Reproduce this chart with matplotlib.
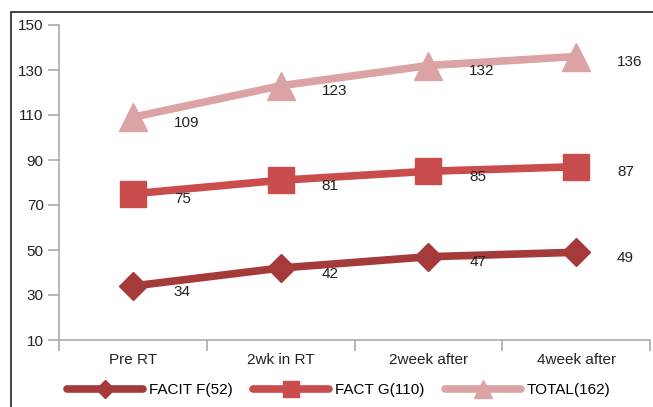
import numpy as np
import matplotlib.pyplot as plt
from matplotlib.patches import Rectangle

plt.rcParams['font.family'] = ['Liberation Sans', 'DejaVu Sans']

categories = ['Pre RT', '2wk in RT', '2week after', '4week after']
facit_f = [34, 42, 47, 49]
fact_g = [75, 81, 85, 87]
total = [109, 123, 132, 136]
series_names = ['FACIT F(52)', 'FACT G(110)', 'TOTAL(162)']

colors = ['#A53A3B', '#C94D4C', '#DBA3A3']
markers = ['D', 's', '^']
msizes = [14, 18.5, 19.5]

fig = plt.figure(figsize=(6.53, 4.07), dpi=100)
ax = fig.add_axes([59 / 653, 1 - 340 / 407, 1 - 59 / 653 - 3 / 653, (340 - 25) / 407])

# outer frame
fig.patches.append(Rectangle((11 / 653, -0.1), 1.2, 1 - 12 / 407 + 0.1,
                             transform=fig.transFigure, fill=False,
                             edgecolor='#222222', linewidth=1.2))

x = np.arange(len(categories))
for vals, c, m, ms, name in zip([facit_f, fact_g, total], colors, markers, msizes, series_names):
    ax.plot(x, vals, color=c, linewidth=5.5, marker=m, markersize=ms,
            solid_capstyle='round', label=name, zorder=3)
    for i, v in enumerate(vals):
        ax.annotate(str(v), (x[i], v), xytext=(29.5, -4), textcoords='offset points',
                    ha='left', va='center', fontsize=11, color='#222222')

ax.set_xlim(-0.5, 3.5)
ax.set_ylim(10, 150)
ax.set_yticks(range(10, 151, 20))
ax.set_xticks(x)
ax.set_xticklabels(categories, fontsize=11, color='#222222')
ax.set_xticks(np.arange(-0.5, 3.6, 1), minor=True)
ax.tick_params(axis='x', which='major', length=0, pad=9)
ax.tick_params(axis='x', which='minor', length=8, color='#aaaaaa', width=1.2)
ax.tick_params(axis='y', length=8, color='#aaaaaa', width=1.2, labelsize=11,
               labelcolor='#222222', pad=3)
for s in ['top', 'right']:
    ax.spines[s].set_visible(False)
for s in ['left', 'bottom']:
    ax.spines[s].set_color('#aaaaaa')
    ax.spines[s].set_linewidth(1.2)

leg = fig.legend(loc='lower left', bbox_to_anchor=(53 / 653, -0.01), ncol=3,
                 frameon=False, fontsize=11, handlelength=5.0, columnspacing=1.3,
                 handletextpad=0.4, markerscale=0.65)

fig.savefig('out.png', dpi=100)
